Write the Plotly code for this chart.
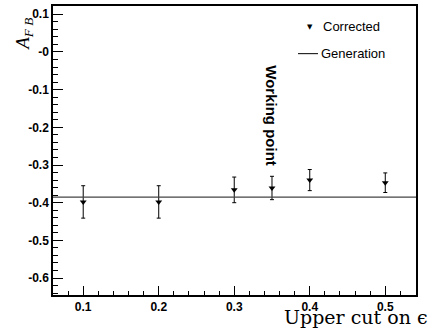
import plotly.graph_objects as go

# Data
cut = [0.1, 0.2, 0.3, 0.35, 0.4, 0.5]
afb = [-0.398, -0.398, -0.366, -0.361, -0.340, -0.347]
afb_err = [0.043, 0.043, 0.034, 0.031, 0.028, 0.026]
generation = -0.385
ytick_vals = [0.1, 0.0, -0.1, -0.2, -0.3, -0.4, -0.5, -0.6]
ytick_text = ["0.1", "-0", "-0.1", "-0.2", "-0.3", "-0.4", "-0.5", "-0.6"]
xtick_vals = [0.1, 0.2, 0.3, 0.4, 0.5]
xtick_text = ["0.1", "0.2", "0.3", "0.4", "0.5"]
xrange_ = [0.06, 0.5407]
yrange_ = [-0.645, 0.122]

W, H = 432, 334
L, R, T, B = 53, 16, 4, 39
PW, PH = W - L - R, H - T - B

def px(x):
    return (x - L) / PW

def py(y):
    return (H - B - y) / PH

fig = go.Figure()
fig.add_trace(go.Scatter(
    x=cut, y=afb, mode="markers",
    marker=dict(symbol="triangle-down", size=6, color="black"),
    error_y=dict(type="data", array=afb_err, color="black", thickness=1, width=2),
    showlegend=False,
))
fig.add_trace(go.Scatter(
    x=[xrange_[0], xrange_[1]], y=[generation, generation], mode="lines",
    line=dict(color="#444", width=1.2), showlegend=False,
))

tickfont = dict(family="Liberation Sans, Arial", size=12, color="black", weight="bold")

fig.update_xaxes(
    range=xrange_, tickvals=xtick_vals, ticktext=["<b>%s</b>" % t for t in xtick_text],
    ticks="inside", ticklen=9, tickwidth=1, tickcolor="black",
    minor=dict(dtick=0.02, ticks="inside", ticklen=4, tickcolor="black", tickwidth=1),
    showgrid=False, zeroline=False, showline=True, linecolor="black", linewidth=1.5,
    mirror=True, tickfont=tickfont, ticklabelstandoff=0,
)
fig.update_yaxes(
    range=yrange_, tickvals=ytick_vals, ticktext=["<b>%s</b>" % t for t in ytick_text],
    ticks="inside", ticklen=10, tickwidth=1, tickcolor="black",
    minor=dict(dtick=0.02, ticks="inside", ticklen=5, tickcolor="black", tickwidth=1),
    showgrid=False, zeroline=False, showline=True, linecolor="black", linewidth=1.5,
    mirror=True, tickfont=tickfont, ticklabelstandoff=0,
)

def ann(x, y, text, font, xanchor="center", yanchor="middle", xref="paper", textangle=0):
    return dict(x=x, y=y, xref=xref, yref="paper", text=text, showarrow=False,
                xanchor=xanchor, yanchor=yanchor, textangle=textangle, font=font)

sans = "Liberation Sans, Arial"
annotations = [
    ann(0.35, py(115), "<b>Working point</b>",
        dict(family=sans, size=15, color="black"), xref="x", textangle=90),
    ann(px(24), py(33), "<i>A</i><sub><i>F B</i></sub>",
        dict(family="Liberation Serif, Times New Roman", size=19, color="black"), textangle=-90),
    ann(px(282), py(317), "Upper cut on ϵ",
        dict(family="DejaVu Serif", size=19, color="black"), xanchor="left"),
    ann(px(310), py(25), "▼", dict(family="DejaVu Sans", size=7, color="black")),
    ann(px(321), py(25), "Corrected", dict(family=sans, size=13, color="black"), xanchor="left"),
    ann(px(319), py(52), "Generation", dict(family=sans, size=13, color="black"), xanchor="left"),
]
shapes = [
    dict(type="line", xref="paper", yref="paper", x0=px(298), x1=px(318),
         y0=py(52), y1=py(52), line=dict(color="black", width=1)),
]

fig.update_layout(
    width=W, height=H, margin=dict(l=L, r=R, t=T, b=B),
    paper_bgcolor="white", plot_bgcolor="white",
    annotations=annotations, shapes=shapes,
)
fig.write_html("out.html")
